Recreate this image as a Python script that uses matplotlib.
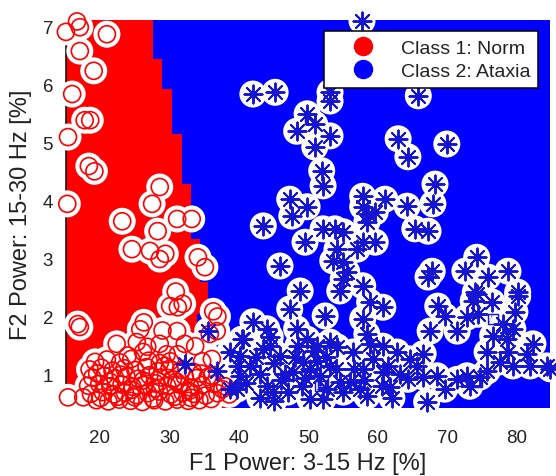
import numpy as np
import matplotlib
matplotlib.use('Agg')
import matplotlib.pyplot as plt
from matplotlib.lines import Line2D

plt.rcParams['font.family'] = ['Liberation Sans', 'DejaVu Sans']

RED = '#ff0000'
BLUE = '#0000ff'
STAR_BLUE = '#1414d2'
TXT = '#222222'

# ── class 1 (Norm): F1 power [%], F2 power [%] ───────────────────────────────
norm_f1 = [15.1, 16.7, 17.1, 21.0, 17.1, 19.1, 16.0, 17.8, 18.6, 15.4,
           18.4, 19.2, 15.3, 28.6, 27.5, 23.2, 31.1, 33.2, 28.3, 24.6,
           27.2, 28.6, 29.4, 34.1, 35.1, 30.9, 30.1, 31.2, 31.9, 36.3,
           36.9, 16.8, 17.1, 26.3, 25.8, 29.0, 22.4, 25.3, 26.8, 26.2,
           31.1, 32.2, 33.7, 35.8, 36.8, 28.6, 30.1, 31.2, 34.7, 36.1,
           36.1, 37.6, 15.4, 17.6,
           19.3, 21.0, 22.9, 24.5, 27.0, 28.6,
           18.5, 20.2, 21.8, 23.5, 25.1, 26.7, 28.3, 30.0, 31.7, 33.4,
           18.9, 20.6, 22.2, 23.8, 25.5, 27.1, 28.8, 30.5, 32.2, 33.9, 35.5,
           18.3, 19.9, 21.5, 23.1, 24.7, 26.4, 28.0, 29.7, 31.4, 33.0, 34.7,
           36.4, 38.0,
           18.7, 20.4, 22.0, 23.6, 25.2, 26.9, 28.5, 30.2, 31.9, 33.5, 35.2,
           36.9, 38.6,
           19.5, 21.2, 22.8, 24.4, 26.1, 27.8, 29.4, 31.1, 32.7, 34.3,
           19.6, 21.4, 23.0, 24.6, 26.2, 27.9, 29.3, 31.0, 32.8, 34.5,
           20.1, 22.6, 25.0, 27.6, 30.8, 33.1, 36.0, 24.0, 29.6]
norm_f2 = [6.90, 7.08, 6.98, 6.86, 6.57, 6.23, 5.83, 5.38, 5.38, 5.09,
           4.59, 4.50, 3.94, 4.23, 3.94, 3.64, 3.68, 3.68, 3.47, 3.16,
           3.13, 2.99, 3.08, 3.02, 2.85, 2.43, 2.18, 2.16, 2.22, 2.09,
           2.00, 1.87, 1.82, 1.90, 1.78, 1.76, 1.53, 1.56, 1.48, 1.39,
           1.75, 1.53, 1.49, 1.70, 1.75, 1.53, 1.23, 1.35, 1.23, 1.27,
           0.98, 0.75, 0.61, 0.61,
           1.22, 1.26, 1.21, 1.27, 1.24, 1.20,
           1.09, 1.12, 1.07, 1.11, 1.08, 1.13, 1.06, 1.10, 1.08, 1.05,
           0.95, 0.98, 0.94, 0.97, 0.93, 0.99, 0.95, 0.92, 0.97, 0.94, 0.96,
           0.81, 0.84, 0.80, 0.83, 0.79, 0.82, 0.85, 0.80, 0.83, 0.78, 0.82,
           0.84, 0.80,
           0.67, 0.70, 0.66, 0.69, 0.65, 0.68, 0.71, 0.66, 0.69, 0.67, 0.64,
           0.68, 0.66,
           0.56, 0.54, 0.57, 0.55, 0.53, 0.56, 0.54, 0.57, 0.55, 0.56,
           1.02, 0.88, 1.00, 0.74, 0.90, 0.76, 1.15, 0.88, 0.72, 1.02,
           0.60, 0.62, 0.61, 0.59, 0.62, 0.60, 0.58, 1.33, 1.35]

# ── class 2 (Ataxia) ─────────────────────────────────────────────────────────
atx_f1 = [57.7, 42.0, 45.2, 53.1, 53.1, 65.8, 49.8, 50.9, 48.3, 53.1,
          50.9, 62.9, 64.3, 69.9, 51.9, 52.1, 68.2, 67.9, 47.3, 49.8,
          47.6, 43.5, 57.8, 57.8, 58.6, 58.4, 61.0, 64.2, 65.3, 67.2,
          52.1, 53.8, 55.0, 49.5, 54.1, 53.5, 57.0, 57.8, 55.0, 59.6,
          59.6, 45.9, 55.0, 55.5, 57.8, 48.8, 67.8, 67.2, 74.2, 72.5,
          75.8, 78.7, 80.1, 74.0,
          47.3, 52.4, 54.5, 58.8, 60.7, 57.8, 42.0, 40.6, 44.5, 44.0,
          48.3, 49.8, 51.2, 53.1, 54.1, 58.4, 58.8, 60.7, 45.9, 46.6,
          40.1, 41.6, 43.0, 40.1, 44.0, 44.9, 39.7, 49.1, 50.2, 51.2,
          51.7, 53.1, 54.5, 52.7, 50.2, 52.1, 56.4, 56.0, 57.4, 58.4,
          57.8, 59.3, 60.7, 60.6, 47.8, 49.2,
          35.5, 32.2, 36.8, 38.7, 38.7, 40.4, 39.9,
          74.2, 76.4, 80.1, 79.7, 68.6, 69.6, 72.8, 74.4, 67.5, 71.4,
          78.0, 78.6, 76.5, 78.7, 79.4, 82.3, 81.4, 81.9, 84.3, 84.8,
          75.7, 77.5, 79.4, 75.7, 62.7, 64.6, 66.5, 65.6, 63.2, 64.3,
          66.5, 68.5, 69.6, 71.4, 72.8, 73.2, 74.7, 67.0, 61.7, 73.7,
          42.5, 43.5, 45.0, 46.0, 47.0, 48.0, 41.0, 43.0, 44.5, 50.8,
          52.5, 54.0, 55.0, 56.5, 58.0, 61.5, 62.0, 49.5, 48.5, 45.0]
atx_f2 = [7.09, 5.83, 5.86, 5.86, 5.71, 5.80, 5.49, 5.31, 5.19, 5.11,
          4.92, 5.06, 4.75, 4.97, 4.51, 4.25, 4.28, 3.94, 4.02, 3.89,
          3.73, 3.56, 4.07, 3.89, 3.76, 3.63, 4.02, 3.90, 3.51, 3.47,
          3.51, 3.51, 3.46, 3.28, 3.16, 2.96, 3.16, 3.28, 2.94, 3.28,
          3.80, 2.87, 2.65, 2.77, 2.53, 2.44, 2.78, 2.68, 3.02, 2.78,
          2.68, 2.78, 2.42, 2.42,
          2.13, 2.01, 2.44, 2.25, 2.16, 1.96, 1.91, 1.61, 1.65, 1.79,
          1.79, 1.61, 1.49, 1.56, 1.48, 1.70, 1.53, 1.49, 1.32, 1.01,
          1.32, 1.15, 1.01, 0.98, 0.80, 0.70, 0.75, 0.80, 1.10, 1.23,
          0.98, 1.15, 0.87, 0.75, 0.58, 0.58, 1.39, 0.87, 0.75, 0.63,
          1.10, 1.27, 1.05, 0.80, 1.05, 1.22,
          1.75, 1.18, 1.06, 1.39, 0.75, 1.61, 1.15,
          2.39, 2.25, 2.35, 2.08, 2.18, 2.01, 1.99, 2.04, 1.75, 1.75,
          1.87, 1.61, 1.67, 1.39, 1.79, 1.53, 1.36, 1.15, 1.15, 1.10,
          1.39, 1.22, 1.15, 1.06, 1.39, 1.27, 1.36, 1.15, 1.01, 0.92,
          0.96, 0.98, 0.75, 0.92, 0.98, 0.80, 0.96, 0.53, 0.79, 2.27,
          1.30, 1.45, 1.20, 0.90, 0.70, 1.30, 0.85, 0.60, 1.50, 1.40,
          1.30, 1.10, 0.70, 1.10, 0.90, 1.15, 0.60, 0.95, 1.50, 0.55]

# open squares drawn over some ataxia points
sq_f1 = [52.1, 76.5, 79.0, 74.2, 72.1, 50.2, 51.7]
sq_f2 = [0.87, 1.96, 1.79, 0.87, 0.89, 5.40, 0.80]

# decision-region boundary (Norm region lies left of it), step per row band
bnd_f2 = [0.43, 1.00, 2.05, 2.25, 2.59, 3.33, 4.28, 5.14, 5.92, 6.43, 7.11]
bnd_f1 = [38.8, 34.0, 36.7, 35.5, 34.4, 33.1, 31.8, 30.4, 28.9, 27.6, 27.6]

XLIM = (15.04, 84.75)
YLIM = (0.426, 7.11)

fig = plt.figure(figsize=(5.56, 4.77), dpi=100)
ax = fig.add_axes([65.5 / 556, 1 - 409 / 477, 484.5 / 556, 388.3 / 477])

# background regions
ax.set_facecolor(BLUE)
ax.fill_betweenx(bnd_f2, XLIM[0], bnd_f1, step='post', color=RED,
                 linewidth=0, zorder=0)

# white halo under every sample, then the class markers on top
all_f1 = norm_f1 + atx_f1
all_f2 = norm_f2 + atx_f2
ax.scatter(all_f1, all_f2, s=378, c='white', edgecolors='none',
           zorder=3, clip_on=False)
ax.scatter(norm_f1, norm_f2, s=150, facecolors='none', edgecolors=RED,
           linewidths=1.2, zorder=4, clip_on=False)
ax.scatter(atx_f1, atx_f2, s=169, marker=(8, 2, 0), c=STAR_BLUE,
           linewidths=1.4, zorder=5, clip_on=False)
ax.scatter(sq_f1, sq_f2, s=55, marker='s', facecolors='none',
           edgecolors=STAR_BLUE, linewidths=1.0, zorder=6, clip_on=False)

ax.set_xlim(*XLIM)
ax.set_ylim(*YLIM)
ax.set_xticks([20, 30, 40, 50, 60, 70, 80])
ax.set_yticks([1, 2, 3, 4, 5, 6, 7])
ax.tick_params(axis='both', length=0, labelsize=13.5, colors=TXT)
ax.tick_params(axis='x', pad=15)
ax.tick_params(axis='y', pad=9)

for side in ('top', 'right', 'bottom'):
    ax.spines[side].set_visible(False)
ax.spines['left'].set_color('black')
ax.spines['left'].set_linewidth(1.1)
ax.spines['left'].set_zorder(2)

ax.set_xlabel('F1 Power: 3-15 Hz [%]', fontsize=17, color=TXT)
ax.set_ylabel('F2 Power: 15-30 Hz [%]', fontsize=17, color=TXT)
ax.xaxis.set_label_coords(0.5, -0.113)
ax.yaxis.set_label_coords(-0.069, 0.5)

handles = [Line2D([], [], ls='none', marker='o', markersize=13, color=RED),
           Line2D([], [], ls='none', marker='o', markersize=13, color=BLUE)]
leg = ax.legend(handles, ['Class 1: Norm', 'Class 2: Ataxia'],
                loc='upper right', fontsize=14, handlelength=3.2,
                handletextpad=0.36, borderpad=0.4, labelspacing=0.3,
                borderaxespad=0.6, fancybox=False, framealpha=1)
leg.get_frame().set_edgecolor('black')
leg.get_frame().set_linewidth(1.1)
leg.set_zorder(10)
for t in leg.get_texts():
    t.set_color(TXT)

fig.savefig('out.png', dpi=100)
